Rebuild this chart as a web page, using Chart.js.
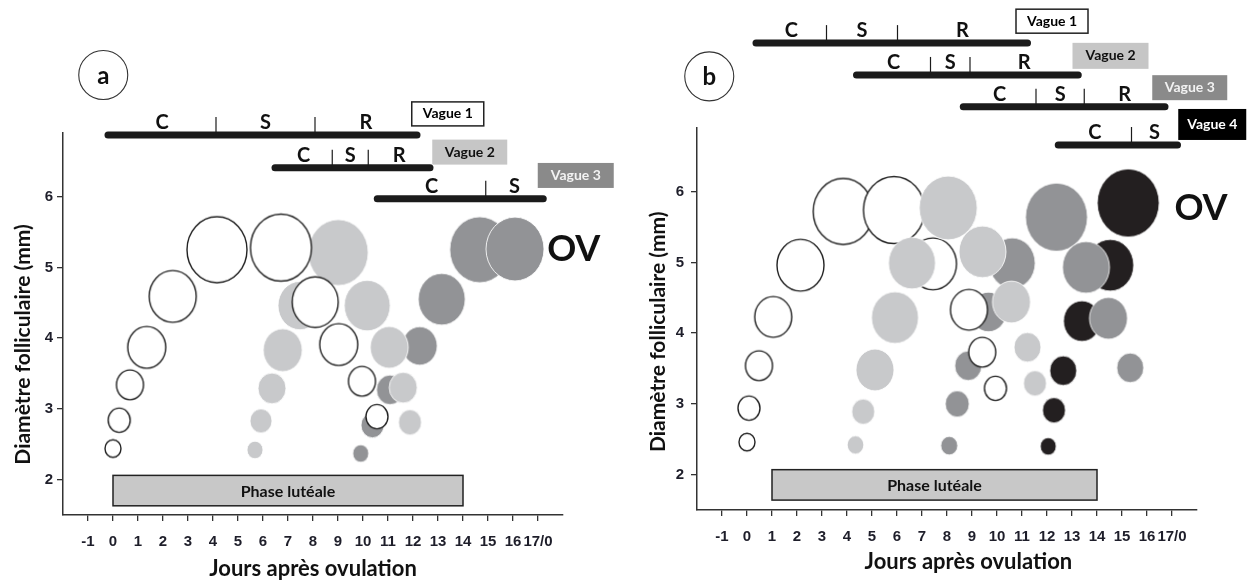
<!DOCTYPE html>
<html>
<head>
<meta charset="utf-8">
<script src="https://cdn.jsdelivr.net/npm/chart.js@4.4.1/dist/chart.umd.min.js"></script>
<style>
  body { margin: 0; background: #fff; }
  #wrap { position: relative; width: 1250px; height: 582px; }
  #chartA { position: absolute; left: 0; top: 0; }
  #chartB { position: absolute; left: 625px; top: 0; }
</style>
</head>
<body>
<div id="wrap">
  <canvas id="chartA" width="625" height="582"></canvas>
  <canvas id="chartB" width="625" height="582"></canvas>
</div>
<script>
// axis ticks
const dayTicks = [-1, 0, 1, 2, 3, 4, 5, 6, 7, 8, 9, 10, 11, 12, 13, 14, 15, 16, 17];
const dayLabels = ['-1', '0', '1', '2', '3', '4', '5', '6', '7', '8', '9', '10', '11', '12', '13', '14', '15', '16', '17/0'];
const mmTicks = [2, 3, 4, 5, 6];

// panel a : follicles (day, diameter mm, bubble radius)
const aW1x = [0, 0.25, 0.68, 1.35, 2.39, 4.16, 6.72, 8.09, 9.03, 9.96, 10.56];
const aW1y = [2.44, 2.84, 3.34, 3.87, 4.59, 5.25, 5.28, 4.51, 3.91, 3.39, 2.89];
const aW1r = [8, 11, 13.5, 19, 23.5, 30, 30.5, 23, 19, 13.5, 11];
const aW2x = [5.68, 5.92, 6.36, 6.79, 7.48, 9.01, 10.17, 11.05, 11.61, 11.88];
const aW2y = [2.42, 2.83, 3.29, 3.83, 4.46, 5.21, 4.46, 3.87, 3.30, 2.81];
const aW2r = [8, 11, 14, 19.5, 22, 30, 23, 19, 14, 11.5];
const aW3x = [9.91, 10.38, 11.08, 12.27, 13.15, 14.67, 16.08];
const aW3y = [2.37, 2.77, 3.27, 3.89, 4.55, 5.25, 5.26];
const aW3r = [8, 11.5, 13.5, 17.5, 23.5, 30, 29];

// panel b
const bW1x = [0, 0.08, 0.48, 1.05, 2.14, 3.85, 5.88, 7.44, 8.88, 9.41, 9.94];
const bW1y = [2.46, 2.94, 3.54, 4.23, 4.96, 5.72, 5.74, 4.98, 4.33, 3.73, 3.22];
const bW1r = [8, 11, 13.5, 18.5, 23.5, 30, 30.5, 23.5, 18.5, 13.5, 11];
const bW2x = [4.34, 4.65, 5.12, 5.92, 6.6, 8.05, 9.42, 10.58, 11.22, 11.52];
const bW2y = [2.42, 2.89, 3.48, 4.22, 4.99, 5.77, 5.15, 4.44, 3.80, 3.29];
const bW2r = [8.3, 11.5, 19, 23.5, 23.5, 29, 23.5, 19, 13.5, 11.5];
const bW3x = [8.09, 8.41, 8.85, 9.66, 10.61, 12.38, 13.56, 14.46, 15.33];
const bW3y = [2.41, 3.0, 3.54, 4.3, 4.99, 5.64, 4.93, 4.21, 3.51];
const bW3r = [8.5, 12, 13.5, 18, 23, 31, 23.5, 19, 13.5];
const bW4x = [12.05, 12.28, 12.65, 13.4, 14.53, 15.25];
const bW4y = [2.40, 2.91, 3.47, 4.17, 4.96, 5.84];
const bW4r = [8, 11.5, 13.5, 18.5, 23.5, 31];

// waves : start, C/S/R boundaries, end (days)
const waveLetters = ['C', 'S', 'R'];
const waveNames = ['Vague 1', 'Vague 2', 'Vague 3', 'Vague 4'];
const aWaveStart = [-0.2, 6.48, 10.57];
const aWaveSplits = [[4.12, 8.08], [8.77, 10.21], [14.91]];
const aWaveEnd = [12.16, 12.68, 17.21];
const bWaveStart = [0.36, 4.38, 8.65, 12.45];
const bWaveSplits = [[3.18, 6.02], [7.34, 8.92], [11.56, 13.49], [15.38]];
const bWaveEnd = [11.22, 13.25, 16.72, 17.22];
const aLuteal = [0, 14];
const bLuteal = [1, 14];

const WHITE = '#ffffff', LIGHT = '#c8c9cb', DARK = '#929396', BLACK = '#231f20';
const boxStyles = [
  {fill: '#ffffff', text: '#000', border: '#222'},
  {fill: '#c6c6c6', text: '#111', border: null},
  {fill: '#8a8a8a', text: '#f2f2f2', border: null},
  {fill: '#000000', text: '#ffffff', border: null}
];

// slightly tall ellipses like the original figure
const styleCache = {};
function ellipse(r, fill, stroke) {
  const key = r + fill + stroke;
  if (styleCache[key]) return styleCache[key];
  const rx = r, ry = r * 1.1;
  const c = document.createElement('canvas');
  c.width = Math.ceil(rx * 2 + 4);
  c.height = Math.ceil(ry * 2 + 4);
  const g = c.getContext('2d');
  g.beginPath();
  g.ellipse(c.width / 2, c.height / 2, rx, ry, 0, 0, Math.PI * 2);
  g.fillStyle = fill;
  g.fill();
  if (stroke) {
    g.lineWidth = 1.4;
    g.strokeStyle = stroke;
  } else {
    g.lineWidth = 1;
    g.strokeStyle = 'rgba(255,255,255,0.85)';
  }
  g.stroke();
  styleCache[key] = c;
  return c;
}

function bubbles(xs, ys, rs, fill, stroke) {
  return {
    data: xs.map((v, i) => ({x: v, y: ys[i], r: rs[i]})),
    backgroundColor: fill,
    borderColor: stroke || fill,
    pointStyle: c => ellipse(c.raw ? c.raw.r : 5, fill, stroke),
    clip: false
  };
}

const tickFont = {family: '"Liberation Sans", Arial, sans-serif', size: 15, weight: 'bold'};
const titleFont = {family: 'Lato, "Open Sans", sans-serif', size: 22, weight: 'bold'};

function line(ctx, x0, y0, x1, y1) {
  ctx.beginPath();
  ctx.moveTo(x0, y0);
  ctx.lineTo(x1, y1);
  ctx.stroke();
}

const annot = {
  id: 'annot',
  beforeDatasetsDraw(chart, args, o) {
    const {ctx, scales: {x, y}} = chart;
    const l = x.getPixelForValue(o.luteal[0]), r = x.getPixelForValue(o.luteal[1]);
    const t = y.getPixelForValue(o.lutealY[0]), b = y.getPixelForValue(o.lutealY[1]);
    ctx.save();
    ctx.fillStyle = '#c8c8c8';
    ctx.fillRect(l, t, r - l, b - t);
    ctx.strokeStyle = '#222';
    ctx.lineWidth = 1.5;
    ctx.strokeRect(l, t, r - l, b - t);
    ctx.fillStyle = '#111';
    ctx.font = 'bold 16px Lato, sans-serif';
    ctx.textAlign = 'center';
    ctx.textBaseline = 'middle';
    ctx.fillText('Phase lutéale', (l + r) / 2, (t + b) / 2 + 1);
    ctx.restore();
  },
  afterDatasetsDraw(chart, args, o) {
    const {ctx, scales: {x, y}} = chart;
    ctx.save();
    o.start.forEach((s, i) => {
      const yy = y.getPixelForValue(o.level[i]);
      const cuts = [s, ...o.splits[i], o.end[i]];
      ctx.strokeStyle = '#1b1b1b';
      ctx.lineCap = 'round';
      ctx.lineWidth = 7;
      line(ctx, x.getPixelForValue(s), yy, x.getPixelForValue(o.end[i]), yy);
      ctx.lineCap = 'butt';
      ctx.lineWidth = 1.2;
      o.splits[i].forEach(d => {
        const px = x.getPixelForValue(d);
        line(ctx, px, yy, px, yy - 18);
      });
      ctx.fillStyle = '#111';
      ctx.font = 'bold 20px Lato, sans-serif';
      ctx.textAlign = 'center';
      ctx.textBaseline = 'alphabetic';
      for (let k = 0; k < cuts.length - 1; k++) {
        const mx = (x.getPixelForValue(cuts[k]) + x.getPixelForValue(cuts[k + 1])) / 2;
        ctx.fillText(waveLetters[k], mx, yy - 6);
      }
      // wave name box
      const bx = x.getPixelForValue(o.boxX[i]);
      const by = y.getPixelForValue(o.boxY[i]);
      const bw = o.boxW[i], bh = o.boxH[i];
      const st = boxStyles[i];
      ctx.fillStyle = st.fill;
      ctx.fillRect(bx, by - bh / 2, bw, bh);
      if (st.border) {
        ctx.strokeStyle = st.border;
        ctx.lineWidth = 1.5;
        ctx.strokeRect(bx, by - bh / 2, bw, bh);
      }
      ctx.fillStyle = st.text;
      ctx.font = 'bold 14px Lato, sans-serif';
      ctx.textBaseline = 'middle';
      ctx.fillText(waveNames[i], bx + bw / 2, by);
    });
    // OV
    ctx.fillStyle = '#111';
    ctx.font = 'bold 36px Lato, sans-serif';
    ctx.textAlign = 'center';
    ctx.textBaseline = 'middle';
    ctx.fillText('OV', x.getPixelForValue(o.ov[0]), y.getPixelForValue(o.ov[1]));
    // panel letter
    const cx = x.getPixelForValue(o.tag[0]), cy = y.getPixelForValue(o.tag[1]);
    ctx.beginPath();
    ctx.arc(cx, cy, 24.5, 0, Math.PI * 2);
    ctx.strokeStyle = '#333';
    ctx.lineWidth = 1.1;
    ctx.stroke();
    ctx.font = 'bold 24px Lato, sans-serif';
    ctx.fillText(o.tagText, cx, cy + 1);
    ctx.restore();
  }
};

function makeChart(id, datasets, L) {
  return new Chart(document.getElementById(id), {
    type: 'bubble',
    data: {datasets},
    plugins: [annot],
    options: {
      responsive: false,
      animation: false,
      events: [],
      layout: {padding: {left: 0, top: L.top, right: L.right, bottom: 0}},
      plugins: {
        legend: {display: false},
        tooltip: {enabled: false},
        annot: L.annot
      },
      scales: {
        x: {
          type: 'linear', min: -2, max: 18,
          afterBuildTicks: s => { s.ticks = dayTicks.map(v => ({value: v})); },
          afterFit: s => { s.height = L.xHeight; },
          ticks: {
            autoSkip: false, maxRotation: 0, padding: 12, color: '#1e1e2a', font: tickFont,
            callback: (v, i) => dayLabels[i]
          },
          grid: {drawOnChartArea: false, drawTicks: true, tickLength: 6, tickColor: '#333', lineWidth: 1.3},
          border: {display: true, color: '#333', width: 1.5},
          title: {display: true, text: L.xTitle, color: '#111', font: titleFont,
                  padding: {top: 0, bottom: L.xTitlePad}}
        },
        y: {
          type: 'linear', min: 1.5, max: 6.9,
          afterBuildTicks: s => { s.ticks = mmTicks.map(v => ({value: v})); },
          afterFit: s => { s.width = L.yWidth; },
          ticks: {padding: L.yTickPad, color: '#1e1e2a', font: tickFont},
          grid: {drawOnChartArea: false, drawTicks: true, tickLength: 6, tickColor: '#333', lineWidth: 1.3},
          border: {display: true, color: '#333', width: 1.5},
          title: {display: true, text: L.yTitle, color: '#111',
                  font: {family: 'Lato, "Open Sans", sans-serif', size: 21, weight: 'bold'},
                  padding: {top: L.yTitlePad, bottom: 0}}
        }
      }
    }
  });
}

// first dataset is drawn on top
makeChart('chartA', [
  bubbles(aW1x, aW1y, aW1r, WHITE, '#222'),
  bubbles(aW2x, aW2y, aW2r, LIGHT),
  bubbles(aW3x, aW3y, aW3r, DARK)
], {
  top: 133, right: 62, xHeight: 67, yWidth: 63, xTitlePad: 0, yTitlePad: 11, yTickPad: 4,
  xTitle: 'Jours après ovulation',
  yTitle: 'Diamètre folliculaire (mm)        ',
  annot: {
    luteal: aLuteal, lutealY: [2.06, 1.63],
    start: aWaveStart, splits: aWaveSplits, end: aWaveEnd,
    level: [6.87, 6.41, 5.97],
    boxX: [11.95, 12.77, 16.99], boxY: [7.17, 6.63, 6.30],
    boxW: [72, 75, 76], boxH: [24, 25, 25],
    ov: [18.43, 5.25], tag: [-0.39, 7.72], tagText: 'a'
  }
});

makeChart('chartB', [
  bubbles(bW2x, bW2y, bW2r, LIGHT),
  bubbles(bW1x, bW1y, bW1r, WHITE, '#222'),
  bubbles(bW3x, bW3y, bW3r, DARK),
  bubbles(bW4x, bW4y, bW4r, BLACK)
], {
  top: 128, right: 53, xHeight: 72, yWidth: 72, xTitlePad: 7, yTitlePad: 21, yTickPad: 7,
  xTitle: '        Jours après ovulation',
  yTitle: 'Diamètre folliculaire (mm)     ',
  annot: {
    luteal: bLuteal, lutealY: [2.07, 1.64],
    start: bWaveStart, splits: bWaveSplits, end: bWaveEnd,
    level: [8.10, 7.65, 7.20, 6.66],
    boxX: [10.76, 13.02, 16.21, 17.25], boxY: [8.41, 7.92, 7.47, 6.95],
    boxW: [72, 76, 75, 68], boxH: [24, 26, 25, 31],
    ov: [18.16, 5.76], tag: [-1.51, 7.63], tagText: 'b'
  }
});
</script>
</body>
</html>
